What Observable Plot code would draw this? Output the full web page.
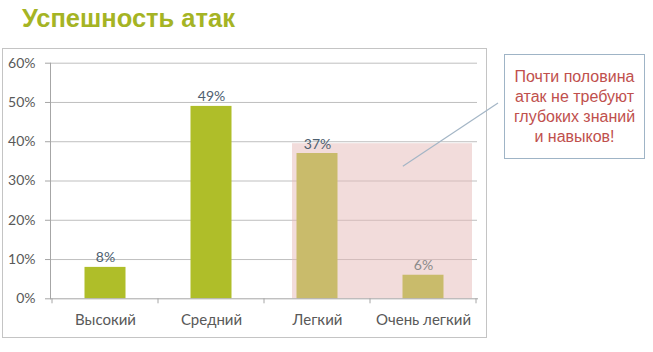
<!DOCTYPE html>
<html><head><meta charset="utf-8">
<script src="https://cdn.jsdelivr.net/npm/d3@7"></script>
<script src="https://cdn.jsdelivr.net/npm/@observablehq/plot@0.6"></script>
<style>
body{margin:0;background:#fff;}
#wrap{position:relative;width:653px;height:352px;overflow:hidden;}
#title{position:absolute;left:22px;top:4px;font:bold 25.5px "Liberation Sans",Arial,sans-serif;color:#a5b424;white-space:nowrap;}
#frame{position:absolute;left:2px;top:48px;width:483px;height:288px;border:1px solid #c4c4c4;}
#chart{position:absolute;left:0;top:0;}
#note{position:absolute;left:504px;top:54px;width:139px;height:103px;border:1px solid #9fb4c6;background:#fff;color:#c0504d;font:16px "Liberation Sans",Arial,sans-serif;text-align:center;line-height:20px;display:flex;align-items:center;justify-content:center;}
</style></head>
<body>
<div id="wrap">
  <div id="frame"></div>
  <div id="title"></div>
  <div id="chart"></div>
  <div id="note"></div>
</div>
<script>
const titleText = "Успешность атак";
const categories = ["Высокий", "Средний", "Легкий", "Очень легкий"];
const values = [8, 49, 37, 6];
const barColors = ["#afbe29", "#afbe29", "#c9bb6b", "#c9bb6b"];
const labelColors = ["#4e6070", "#4e6070", "#4e6070", "#8a8a8a"];
const yTicks = [0, 10, 20, 30, 40, 50, 60];
const highlightCats = ["Легкий", "Очень легкий"];
const highlightTop = 39.5;
const noteLines = ["Почти половина", "атак не требуют", "глубоких знаний", "и навыков!"];
const notePoint = {cat: "Очень легкий", y: 33.6};

document.getElementById("title").textContent = titleText;
document.getElementById("note").innerHTML = noteLines.join("<br>");

const data = categories.map((c, i) => ({cat: c, v: values[i], fill: barColors[i], lc: labelColors[i]}));

const plot = Plot.plot({
  width: 653, height: 352,
  marginLeft: 50, marginRight: 176, marginTop: 62.7, marginBottom: 53.7,
  style: {background: "transparent", fontFamily: "Lato, 'Open Sans', sans-serif", color: "#595959"},
  x: {domain: categories, padding: 0, label: null},
  y: {domain: [0, 60], label: null},
  marks: [
    Plot.ruleY(yTicks.filter(d => d > 0), {stroke: "#bfbfbf", strokeWidth: 1}),
    Plot.barY([highlightCats[0]], {x: d => d, y: highlightTop, fill: "#e5b9b7", fillOpacity: 0.5, insetLeft: 28, insetRight: 0}),
    Plot.barY([highlightCats[1]], {x: d => d, y: highlightTop, fill: "#e5b9b7", fillOpacity: 0.5, insetLeft: 0, insetRight: 4}),
    Plot.barY(data, {x: "cat", y: "v", fill: "fill", insetLeft: 32.5, insetRight: 32.5}),
    Plot.text(data, {x: "cat", y: "v", text: d => d.v + "%", fill: "lc", dy: -5, lineAnchor: "bottom", fontSize: 14}),
    Plot.axisY({ticks: yTicks, tickFormat: d => d + "%", tickSize: 5, tickPadding: 10, fontSize: 14, stroke: "#a6a6a6", color: "#595959"}),
    Plot.axisX({tickSize: 0, tickPadding: 16, fontSize: 15, color: "#595959"}),
    Plot.frame({anchor: "left", stroke: "#a6a6a6"}),
    Plot.frame({anchor: "bottom", stroke: "#a6a6a6"})
  ]
});
document.getElementById("chart").appendChild(plot);

const sx = plot.scale("x"), sy = plot.scale("y");
const bw = sx.bandwidth;
const svg = d3.select(plot);
const bounds = categories.map(c => sx.apply(c)).concat([sx.apply(categories[categories.length - 1]) + bw]);
const y0 = sy.apply(0);
svg.append("g").selectAll("line").data(bounds).join("line")
  .attr("x1", d => d).attr("x2", d => d)
  .attr("y1", y0).attr("y2", y0 + 5)
  .attr("stroke", "#a6a6a6");
// connector line from highlighted region to the note box
svg.append("line")
  .attr("x1", sx.apply(notePoint.cat) + bw * 0.31)
  .attr("y1", sy.apply(notePoint.y))
  .attr("x2", 498).attr("y2", 103)
  .attr("stroke", "#a4b6c6").attr("stroke-width", 1.2);
</script>
</body></html>
